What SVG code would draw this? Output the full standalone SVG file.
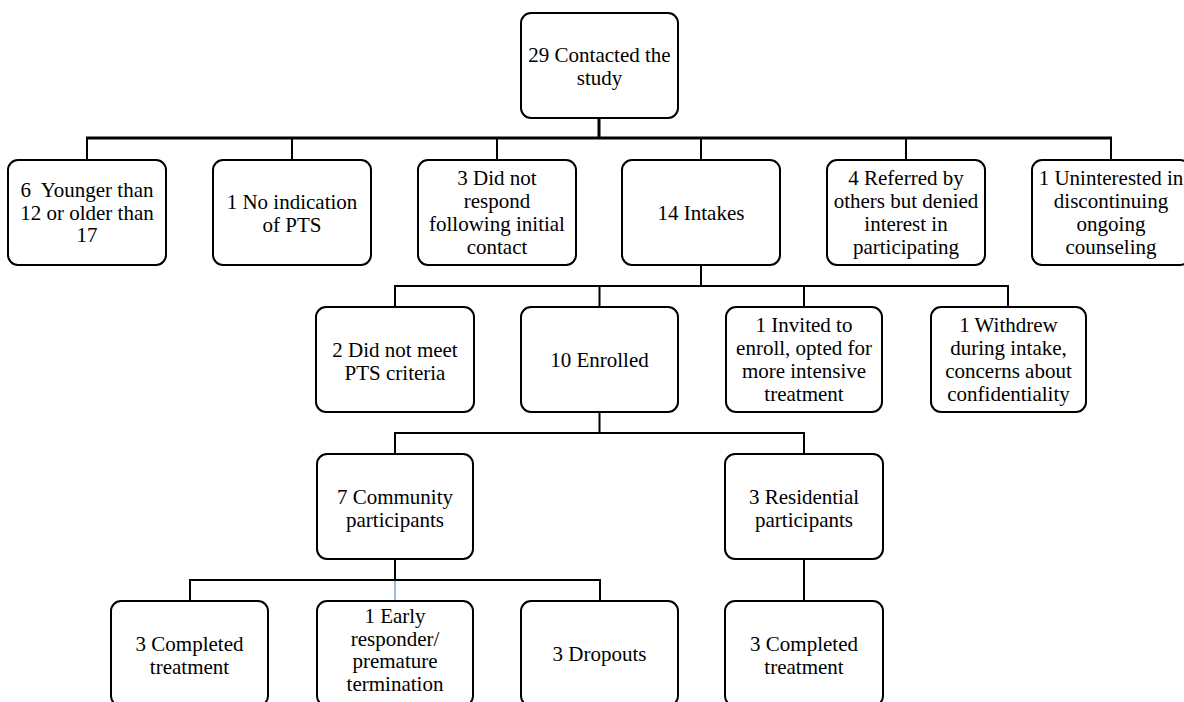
<svg xmlns="http://www.w3.org/2000/svg" width="1184" height="702" viewBox="0 0 1184 702">
<style>
.box{fill:#fff;stroke:#000;stroke-width:2}
.t{font-family:'Liberation Serif','Tinos','Times New Roman','DejaVu Serif',serif;font-size:21px;fill:#000;text-anchor:middle}
.c{stroke:#000;stroke-width:2;fill:none}
.c3{stroke:#000;stroke-width:3;fill:none}
.cb{stroke:#5b8fd0;stroke-width:1.2;fill:none}
</style>
<rect width="1184" height="702" fill="#fff"/>
<g id="connectors">
<path class="c3" d="M599 118V138M86 138H1112"/>
<path class="c" d="M87 138V160M292 138V160M497 138V160M701 138V160M906 138V160M1111 138V160"/>
<path class="c" d="M701 265V286M394 286H1009M395 286V307M599.5 286V307M804 286V307M1008 286V307"/>
<path class="c" d="M599.5 412V433M394 433H805M395 433V454M804 433V454"/>
<path class="c" d="M395 559V580M189 580H601M190 580V601M600 580V601M804 559V601"/>
<path class="cb" d="M395 581V601"/>
</g>
<g id="n0"><rect class="box" x="521" y="13" width="157" height="105" rx="10"/><text class="t" font-family="Liberation Serif, serif"><tspan x="599.5" y="62">29 Contacted the</tspan><tspan x="599.5" y="85">study</tspan></text></g>
<g id="n1"><rect class="box" x="8" y="160" width="158" height="105" rx="10"/><text class="t" font-family="Liberation Serif, serif"><tspan x="87" y="197" style="white-space:pre">6  Younger than</tspan><tspan x="87" y="220">12 or older than</tspan><tspan x="87" y="242">17</tspan></text></g>
<g id="n2"><rect class="box" x="213" y="160" width="158" height="105" rx="10"/><text class="t" font-family="Liberation Serif, serif"><tspan x="292" y="209">1 No indication</tspan><tspan x="292" y="232">of PTS</tspan></text></g>
<g id="n3"><rect class="box" x="418" y="160" width="158" height="105" rx="10"/><text class="t" font-family="Liberation Serif, serif"><tspan x="497" y="185">3 Did not</tspan><tspan x="497" y="208">respond</tspan><tspan x="497" y="231">following initial</tspan><tspan x="497" y="254">contact</tspan></text></g>
<g id="n4"><rect class="box" x="622" y="160" width="158" height="105" rx="10"/><text class="t" font-family="Liberation Serif, serif"><tspan x="701" y="220">14 Intakes</tspan></text></g>
<g id="n5"><rect class="box" x="827" y="160" width="158" height="105" rx="10"/><text class="t" font-family="Liberation Serif, serif"><tspan x="906" y="185">4 Referred by</tspan><tspan x="906" y="208">others but denied</tspan><tspan x="906" y="231">interest in</tspan><tspan x="906" y="254">participating</tspan></text></g>
<g id="n6"><rect class="box" x="1032" y="160" width="158" height="105" rx="10"/><text class="t" font-family="Liberation Serif, serif"><tspan x="1111" y="185">1 Uninterested in</tspan><tspan x="1111" y="208">discontinuing</tspan><tspan x="1111" y="231">ongoing</tspan><tspan x="1111" y="254">counseling</tspan></text></g>
<g id="n7"><rect class="box" x="316" y="307" width="158" height="105" rx="10"/><text class="t" font-family="Liberation Serif, serif"><tspan x="395" y="357">2 Did not meet</tspan><tspan x="395" y="380">PTS criteria</tspan></text></g>
<g id="n8"><rect class="box" x="521" y="307" width="157" height="105" rx="10"/><text class="t" font-family="Liberation Serif, serif"><tspan x="599.5" y="367">10 Enrolled</tspan></text></g>
<g id="n9"><rect class="box" x="726" y="307" width="156" height="105" rx="10"/><text class="t" font-family="Liberation Serif, serif"><tspan x="804" y="332">1 Invited to</tspan><tspan x="804" y="355">enroll, opted for</tspan><tspan x="804" y="378">more intensive</tspan><tspan x="804" y="401">treatment</tspan></text></g>
<g id="n10"><rect class="box" x="931" y="307" width="155" height="105" rx="10"/><text class="t" font-family="Liberation Serif, serif"><tspan x="1008.5" y="332">1 Withdrew</tspan><tspan x="1008.5" y="355">during intake,</tspan><tspan x="1008.5" y="378">concerns about</tspan><tspan x="1008.5" y="401">confidentiality</tspan></text></g>
<g id="n11"><rect class="box" x="317" y="454" width="156" height="105" rx="10"/><text class="t" font-family="Liberation Serif, serif"><tspan x="395" y="504">7 Community</tspan><tspan x="395" y="527">participants</tspan></text></g>
<g id="n12"><rect class="box" x="725" y="454" width="158" height="105" rx="10"/><text class="t" font-family="Liberation Serif, serif"><tspan x="804" y="504">3 Residential</tspan><tspan x="804" y="527">participants</tspan></text></g>
<g id="n13"><rect class="box" x="111" y="601" width="157" height="105" rx="10"/><text class="t" font-family="Liberation Serif, serif"><tspan x="189.5" y="651">3 Completed</tspan><tspan x="189.5" y="674">treatment</tspan></text></g>
<g id="n14"><rect class="box" x="317" y="601" width="156" height="105" rx="10"/><text class="t" font-family="Liberation Serif, serif"><tspan x="395" y="623">1 Early</tspan><tspan x="395" y="646">responder/</tspan><tspan x="395" y="668">premature</tspan><tspan x="395" y="691">termination</tspan></text></g>
<g id="n15"><rect class="box" x="521" y="601" width="157" height="105" rx="10"/><text class="t" font-family="Liberation Serif, serif"><tspan x="599.5" y="661">3 Dropouts</tspan></text></g>
<g id="n16"><rect class="box" x="725" y="601" width="158" height="105" rx="10"/><text class="t" font-family="Liberation Serif, serif"><tspan x="804" y="651">3 Completed</tspan><tspan x="804" y="674">treatment</tspan></text></g>
</svg>
